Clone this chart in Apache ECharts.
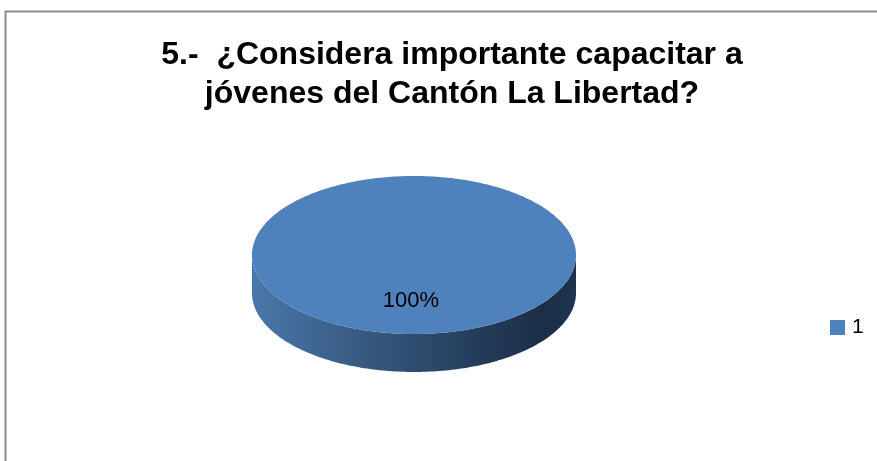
<!DOCTYPE html>
<html>
<head>
<meta charset="utf-8">
<script src="https://cdn.jsdelivr.net/npm/echarts@6/dist/echarts.min.js"></script>
<style>
  html, body { margin: 0; padding: 0; background: #fff; }
  #chart { width: 877px; height: 461px; }
</style>
</head>
<body>
<div id="chart"></div>
<script>
// Survey answers: one category, all respondents.
var categories = ['1'];
var values = [100];
var titleLines = ['5.-  ¿Considera importante capacitar a', 'jóvenes del Cantón La Libertad?'];

var topColors = ['#4f81bd'];
var sideStops = [
  [0, '#4a77ab'], [0.35, '#37597f'], [0.7, '#243c5a'], [0.9, '#1c2e46'], [1, '#1f3452']
];

var chart = echarts.init(document.getElementById('chart'));

var total = values.reduce(function (s, v) { return s + v; }, 0);

// Tilted pie geometry (screen pixels)
var CX = 414, CY = 255, RX = 162, RY = 79, DEPTH = 38;

function pt(theta, dy) {
  // theta measured clockwise from 12 o'clock
  return [CX + RX * Math.sin(theta), CY - RY * Math.cos(theta) + (dy || 0)];
}

function arcPoints(a0, a1, dy, n) {
  var pts = [];
  for (var i = 0; i <= n; i++) {
    pts.push(pt(a0 + (a1 - a0) * i / n, dy));
  }
  return pts;
}

function sliceRange(idx) {
  var before = 0;
  for (var i = 0; i < idx; i++) before += values[i];
  var a0 = before / total * Math.PI * 2;
  var a1 = (before + values[idx]) / total * Math.PI * 2;
  return [a0, a1];
}

function makeRender(idx) {
  return function (params, api) {
    var r = sliceRange(idx);
    var a0 = r[0], a1 = r[1];
    var children = [];
    var full = (a1 - a0) >= Math.PI * 2 - 1e-9;

    // front wall: visible where the rim faces the viewer
    var s0 = Math.max(a0, Math.PI / 2), s1 = Math.min(a1, Math.PI * 1.5);
    if (s1 > s0) {
      var upper = arcPoints(s0, s1, 0, 160);
      var lower = arcPoints(s1, s0, DEPTH, 160);
      children.push({
        type: 'polygon',
        shape: { points: upper.concat(lower) },
        style: {
          fill: {
            type: 'linear', x: CX - RX, y: 0, x2: CX + RX, y2: 0, global: true,
            colorStops: sideStops.map(function (s) { return { offset: s[0], color: s[1] }; })
          }
        }
      });
    }

    // top face
    var topPts = arcPoints(a0, a1, 0, 360);
    if (!full) topPts.push([CX, CY]);
    children.push({
      type: 'polygon',
      shape: { points: topPts },
      style: { fill: topColors[idx % topColors.length] }
    });

    // percentage label
    var mid = (a0 + a1) / 2;
    var lp = [CX + RX * 0.58 * Math.sin(mid) - 3, CY - RY * 0.58 * Math.cos(mid)];
    var pct = Math.round(api.value(0) / total * 100) + '%';
    children.push({
      type: 'text',
      x: lp[0], y: lp[1],
      style: {
        text: pct,
        fill: '#000',
        font: '22px "Liberation Sans", Arial, sans-serif',
        align: 'center',
        verticalAlign: 'middle'
      }
    });

    return { type: 'group', children: children };
  };
}

var series = categories.map(function (name, i) {
  return {
    type: 'custom',
    name: name,
    coordinateSystem: 'none',
    itemStyle: { color: topColors[i % topColors.length] },
    data: [[values[i]]],
    renderItem: makeRender(i),
    silent: true
  };
});

chart.setOption({
  animation: false,
  backgroundColor: '#ffffff',
  title: {
    text: titleLines.join('\n'),
    left: 452,
    top: 36,
    padding: 0,
    textAlign: 'center',
    textStyle: {
      fontFamily: '"Liberation Sans", Arial, sans-serif',
      fontWeight: 'bold',
      fontSize: 32,
      lineHeight: 39,
      color: '#000'
    }
  },
  legend: {
    data: categories,
    left: 830,
    top: 317,
    padding: 0,
    icon: 'rect',
    itemWidth: 15,
    itemHeight: 15,
    textStyle: {
      fontFamily: '"Liberation Sans", Arial, sans-serif',
      fontSize: 21,
      color: '#000',
      padding: [0, 0, 0, 2]
    }
  },
  graphic: [{
    type: 'rect',
    shape: { x: 5.5, y: 11.5, width: 900, height: 500 },
    style: { fill: 'none', stroke: '#8a8a8a', lineWidth: 2 },
    silent: true
  }],
  series: series
});
</script>
</body>
</html>
